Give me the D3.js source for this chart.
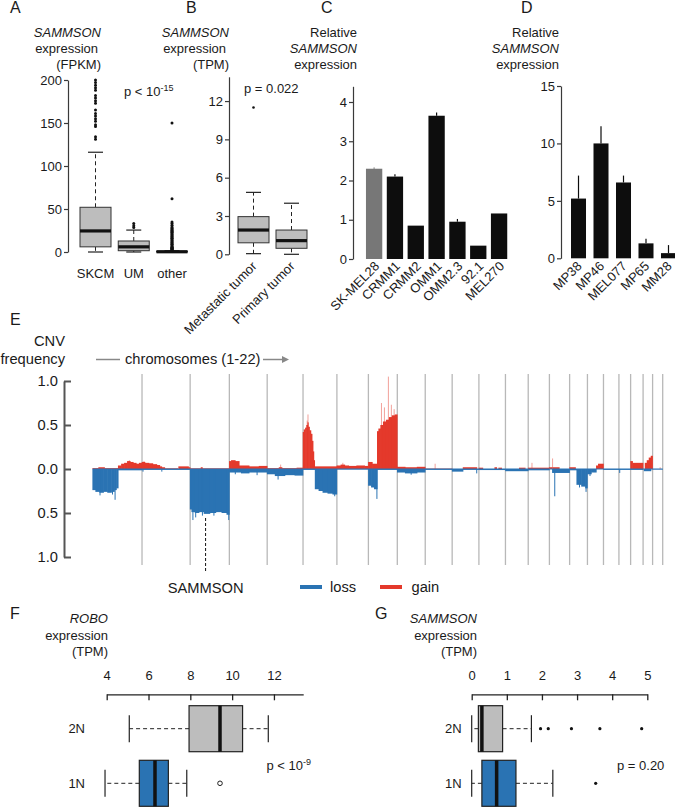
<!DOCTYPE html>
<html><head><meta charset="utf-8">
<script src="https://cdn.jsdelivr.net/npm/d3@7"></script>
<style>body{margin:0;background:#fff}svg{display:block}</style>
</head><body><svg id="c" width="675" height="807"></svg>
<script>
const FONT = '"Liberation Sans", Arial, Helvetica, sans-serif';
// ---------- DATA ----------
// Panel A: [lowWhisker, q1, median, q3, highWhisker]
const aGroups = ["SKCM", "UM", "other"];
const aStats = [[0, 6, 24.5, 52, 116], [0, 1.5, 6, 12.8, 25.5], [0, 0.1, 0.3, 0.8, 1.5]];
const aOutliers = [
  [131, 134, 146, 148, 152, 155, 158, 161, 165, 173, 176, 179, 182, 188, 191, 194, 197, 200],
  [28.5, 30.5, 33],
  [2, 2.5, 3, 3.5, 4, 4.5, 5, 5.5, 6, 7, 8, 9, 10, 11, 12, 13, 14, 15, 16, 17, 18, 19, 20, 21, 22, 23, 24, 25, 26, 27, 28, 29, 31, 33, 35, 62, 150]
];
const aTicks = [0, 50, 100, 150, 200];
// Panel B
const bGroups = ["Metastatic tumor", "Primary tumor"];
const bStats = [[0.05, 0.9, 1.9, 2.95, 4.85], [0, 0.47, 1.07, 1.9, 4.0]];
const bOutliers = [[11.5], []];
const bTicks = [0, 3, 6, 9, 12];
// Panel C
const cCats = ["SK-MEL28", "CRMM1", "CRMM2", "OMM1", "OMM2.3", "92.1", "MEL270"];
const cVals = [2.3, 2.1, 0.85, 3.65, 0.95, 0.34, 1.16];
const cErr = [0.03, 0.06, 0, 0.08, 0.07, 0, 0];
const cTicks = [0, 1, 2, 3, 4];
// Panel D
const dCats = ["MP38", "MP46", "MEL077", "MP65", "MM28"];
const dVals = [5.2, 10.0, 6.6, 1.3, 0.45];
const dErr = [2.0, 1.5, 0.6, 0.4, 0.7];
const dTicks = [0, 5, 10, 15];
// Panel E: chromosome lengths (Mb), segments [chr, startMb, endMb, freq]
const chrLengths = [249, 243, 198, 191, 181, 171, 159, 146, 141, 136, 135, 134, 115, 107, 102, 90, 81, 78, 59, 63, 48, 51];
const gainSegs = [
  [1,0,30,0.01],[1,30,60,0.02],[1,60,129,0.01],[1,129,145,0.04],[1,145,160,0.06],[1,160,175,0.07],[1,175,190,0.09],[1,190,205,0.08],[1,205,220,0.07],[1,220,235,0.06],[1,235,249,0.07],
  [2,0,15,0.08],[2,15,35,0.07],[2,35,55,0.065],[2,55,75,0.055],[2,75,90,0.045],[2,90,100,0.03],[2,100,115,0.02],[2,115,180,0.008],[2,185,235,0.03],[2,235,243,0.02],
  [3,0,198,0.008],[3,55,62,0.02],
  [4,0,10,0.09],[4,10,30,0.1],[4,30,50,0.09],[4,50,100,0.04],[4,100,150,0.03],[4,150,191,0.035],
  [5,0,181,0.01],[5,60,75,0.02],[5,150,181,0.015],
  [6,0,5,0.42],[6,5,12,0.45],[6,12,18,0.47],[6,18,24,0.5],[6,24,27,0.53],[6,27,33,0.48],[6,33,40,0.44],[6,40,46,0.4],[6,46,51,0.32],[6,51,55,0.2],[6,55,59,0.1],[6,59,171,0.03],
  [7,0,20,0.04],[7,20,40,0.05],[7,40,60,0.04],[7,60,100,0.035],[7,100,140,0.04],[7,140,159,0.035],
  [8,0,20,0.08],[8,20,45,0.06],[8,45,52,0.43],[8,52,62,0.46],[8,62,75,0.5],[8,75,90,0.54],[8,90,105,0.56],[8,105,120,0.59],[8,120,135,0.61],[8,135,146,0.62],
  [9,0,40,0.025],[9,40,100,0.02],[9,100,141,0.025],
  [10,0,136,0.005],
  [11,55,125,0.02],
  [12,0,20,0.015],[12,80,90,0.02],[12,100,115,0.015],
  [13,70,100,0.015],
  [14,0,107,0.015],
  [15,0,15,0.02],[15,18,50,0.02],
  [16,0,30,0.02],
  [17,45,55,0.04],[17,55,81,0.06],
  [20,0,10,0.09],[20,10,63,0.07],
  [21,10,20,0.07],[21,20,30,0.1],[21,30,40,0.13],[21,40,48,0.15]
];
const gainSpikes = [[6,25,0.62],[6,21,0.55],[7,30,0.07],[8,66,0.75],[8,81,0.7],[8,101,1.05],[8,116,0.73],[8,130,0.68],[10,50,0.06],[14,19,0.07],[15,16,0.12],[22,38,0.02],[5,68,0.05],[1,185,0.1],[2,10,0.09]];
const lossSegs = [
  [1,0,15,0.24],[1,15,35,0.26],[1,35,55,0.27],[1,55,75,0.26],[1,75,95,0.27],[1,95,110,0.26],[1,110,120,0.24],[1,120,129,0.22],[1,129,249,0.015],
  [2,0,243,0.01],
  [3,0,8,0.46],[3,8,25,0.49],[3,25,45,0.5],[3,45,70,0.49],[3,70,100,0.51],[3,100,130,0.5],[3,130,160,0.49],[3,160,185,0.5],[3,185,198,0.52],
  [4,0,60,0.04],[4,60,100,0.05],[4,100,191,0.04],
  [5,0,40,0.06],[5,40,90,0.08],[5,90,140,0.07],[5,140,181,0.075],
  [6,0,61,0.01],[6,61,80,0.23],[6,80,100,0.25],[6,100,125,0.27],[6,125,150,0.28],[6,150,171,0.29],
  [7,0,159,0.005],
  [8,0,15,0.19],[8,15,30,0.21],[8,30,45,0.23],[8,45,146,0.01],
  [9,0,40,0.04],[9,40,100,0.05],[9,100,141,0.04],
  [10,0,136,0.01],
  [11,0,55,0.03],[11,55,135,0.01],
  [12,0,134,0.012],
  [13,0,115,0.025],
  [14,0,107,0.015],
  [15,15,102,0.045],
  [16,0,36,0.015],[16,36,60,0.18],[16,60,80,0.2],[16,80,90,0.22],
  [17,0,20,0.06],[17,20,45,0.04],
  [18,0,78,0.01],
  [19,0,59,0.01],
  [20,0,63,0.01],
  [21,5,40,0.025],
  [22,0,51,0.005]
];
const lossSpikes = [[1,37,0.3],[1,100,0.29],[1,113,0.35],[2,5,0.03],[2,100,0.03],[3,14,0.58],[3,28,0.55],[3,62,0.53],[3,120,0.53],[3,195,0.58],[4,30,0.06],[4,140,0.07],[5,55,0.12],[6,160,0.31],[8,43,0.34],[9,70,0.065],[11,124,0.05],[15,27,0.31],[16,83,0.26],[16,50,0.21],[17,13,0.08],[19,4,0.045]];
const eTicks = [-1, -0.5, 0, 0.5, 1];
const sammsonPos = [3, 78];
// Panel F / G: [lowWhisker, q1, median, q3, highWhisker]
const rows = ["2N", "1N"];
const fStats = [[5.08, 7.94, 9.42, 10.5, 11.73], [3.92, 5.56, 6.31, 6.95, 7.83]];
const fOutliers = [[], [9.42]];
const fTicks = [4, 6, 8, 10, 12];
const gStats = [[0.0, 0.19, 0.29, 0.88, 1.7], [0.0, 0.29, 0.71, 1.26, 2.31]];
const gOutliers = [[1.96, 2.18, 2.84, 3.65, 4.84], [3.53]];
const gTicks = [0, 1, 2, 3, 4, 5];

// ---------- DRAW ----------
const svg = d3.select("#c").attr("font-family", FONT);
const GRAY = "#bdbdbd", BLUE = "#2a73b3", RED = "#e4392b", AX = "#3a3a3a";
const intFmt = d3.format("d");

function txt(x, y, s, o = {}) {
  const t = svg.append("text").attr("x", x).attr("y", y).attr("font-size", o.size || 13)
    .attr("text-anchor", o.anchor || "start").attr("fill", o.fill || "#1a1a1a").text(s);
  if (o.italic) t.attr("font-style", "italic");
  if (o.transform) t.attr("transform", o.transform);
  return t;
}
function title(x, lines) { lines.forEach(l => txt(l[3] !== undefined ? l[3] : x, l[0], l[1], {anchor: "end", italic: l[2]})); }
function styleAxis(g, size, color, sw) {
  g.attr("font-family", FONT).attr("font-size", size);
  g.selectAll("path.domain").attr("stroke", color).attr("stroke-width", sw);
  g.selectAll(".tick line").attr("stroke", color).attr("stroke-width", sw);
  g.selectAll(".tick text").attr("fill", "#1a1a1a");
}
function vbox(cx, w, st, y, fill, capW, outs, r) {
  const [lo, q1, md, q3, hi] = st;
  const g = svg.append("g");
  g.append("line").attr("x1", cx).attr("x2", cx).attr("y1", y(q3)).attr("y2", y(hi)).attr("stroke", "#222").attr("stroke-dasharray", "4,3");
  g.append("line").attr("x1", cx).attr("x2", cx).attr("y1", y(q1)).attr("y2", y(lo)).attr("stroke", "#222").attr("stroke-dasharray", "4,3");
  [lo, hi].forEach(v => g.append("line").attr("x1", cx - capW / 2).attr("x2", cx + capW / 2).attr("y1", y(v)).attr("y2", y(v)).attr("stroke", "#222").attr("stroke-width", 1.2));
  g.append("rect").attr("x", cx - w / 2).attr("width", w).attr("y", y(q3)).attr("height", Math.max(0.5, y(q1) - y(q3))).attr("fill", fill).attr("stroke", "#333").attr("stroke-width", 1);
  g.append("line").attr("x1", cx - w / 2).attr("x2", cx + w / 2).attr("y1", y(md)).attr("y2", y(md)).attr("stroke", "#111").attr("stroke-width", 3.2);
  outs.forEach(v => g.append("circle").attr("cx", cx).attr("cy", y(v)).attr("r", r).attr("fill", "#111"));
}
function hbox(cy, h, st, x, fill, capH, outs, open) {
  const [lo, q1, md, q3, hi] = st;
  const g = svg.append("g");
  g.append("line").attr("y1", cy).attr("y2", cy).attr("x1", x(q3)).attr("x2", x(hi)).attr("stroke", "#222").attr("stroke-dasharray", "4,3");
  g.append("line").attr("y1", cy).attr("y2", cy).attr("x1", x(q1)).attr("x2", x(lo)).attr("stroke", "#222").attr("stroke-dasharray", "4,3");
  [lo, hi].forEach(v => g.append("line").attr("y1", cy - capH / 2).attr("y2", cy + capH / 2).attr("x1", x(v)).attr("x2", x(v)).attr("stroke", "#222").attr("stroke-width", 1.2));
  g.append("rect").attr("y", cy - h / 2).attr("height", h).attr("x", x(q1)).attr("width", x(q3) - x(q1)).attr("fill", fill).attr("stroke", "#222").attr("stroke-width", 1.2);
  g.append("line").attr("y1", cy - h / 2).attr("y2", cy + h / 2).attr("x1", x(md)).attr("x2", x(md)).attr("stroke", "#111").attr("stroke-width", 3.5);
  outs.forEach(v => {
    const c = g.append("circle").attr("cy", cy).attr("cx", x(v));
    if (open) c.attr("r", 2.3).attr("fill", "none").attr("stroke", "#222").attr("stroke-width", 1);
    else c.attr("r", 1.6).attr("fill", "#111");
  });
}
function letter(x, y, s) { txt(x, y, s, {size: 16}); }

// ----- Panel A -----
letter(10, 13, "A");
title(101, [[36.5, "SAMMSON", true], [52.5, "expression", false, 98], [68.5, "(FPKM)"]]);
const yA = d3.scaleLinear().domain([0, 200]).range([252, 80]);
const xA = d3.scalePoint().domain(aGroups).range([95.5, 172]);
styleAxis(svg.append("g").attr("transform", "translate(68,0)").call(d3.axisLeft(yA).tickValues(aTicks).tickFormat(intFmt).tickSize(4).tickPadding(2).tickSizeOuter(0)), 13, AX, 1.2);
aGroups.forEach((gname, i) => {
  vbox(xA(gname), 31, aStats[i], yA, GRAY, 15, aOutliers[i], 1.5);
  txt(xA(gname), 278, gname, {anchor: "middle"});
});
const pA = txt(124, 96, "p < 10");
pA.append("tspan").attr("dy", -5).attr("font-size", 9).text("-15");

// ----- Panel B -----
letter(186, 13, "B");
title(229, [[36.5, "SAMMSON", true], [52.5, "expression", false, 226], [68.5, "(TPM)"]]);
const yB = d3.scaleLinear().domain([0, 13.9]).range([254.3, 76.8]);
const xB = d3.scalePoint().domain(bGroups).range([253.5, 291.5]);
styleAxis(svg.append("g").attr("transform", "translate(229,0)").call(d3.axisLeft(yB).tickValues(bTicks).tickFormat(intFmt).tickSize(4).tickPadding(2).tickSizeOuter(0)), 13, AX, 1.2);
bGroups.forEach((gname, i) => {
  vbox(xB(gname), 31, bStats[i], yB, GRAY, 15, bOutliers[i], 1.3);
  txt(0, 0, gname, {anchor: "end", transform: `translate(${xB(gname) + 4},${267}) rotate(-45)`});
});
txt(244, 93, "p = 0.022");

// ----- Panel C -----
letter(321, 13, "C");
title(357, [[36.5, "Relative"], [52.5, "SAMMSON", true], [68.5, "expression"]]);
const yC = d3.scaleLinear().domain([0, 4.4]).range([259, 86.3]);
const xC = d3.scaleBand().domain(cCats).range([363.7, 509.5]).paddingInner(0.217).paddingOuter(0.1085);
styleAxis(svg.append("g").attr("transform", "translate(353,0)").call(d3.axisLeft(yC).tickValues(cTicks).tickFormat(intFmt).tickSize(4).tickPadding(2).tickSizeOuter(0)), 13, AX, 1.2);
cCats.forEach((c, i) => {
  const col = i === 0 ? "#777" : "#0d0d0d";
  const cx = xC(c) + xC.bandwidth() / 2;
  if (cErr[i] > 0) svg.append("line").attr("x1", cx).attr("x2", cx).attr("y1", yC(cVals[i])).attr("y2", yC(cVals[i] + cErr[i])).attr("stroke", col).attr("stroke-width", 1.2);
  svg.append("rect").attr("x", xC(c)).attr("width", xC.bandwidth()).attr("y", yC(cVals[i])).attr("height", yC(0) - yC(cVals[i])).attr("fill", col);
  txt(0, 0, c, {anchor: "end", transform: `translate(${cx + 6},${267}) rotate(-45)`});
});

// ----- Panel D -----
letter(521, 13, "D");
title(559, [[36.5, "Relative"], [52.5, "SAMMSON", true], [68.5, "expression"]]);
const yD = d3.scaleLinear().domain([0, 15]).range([258.3, 86]);
const xD = d3.scaleBand().domain(dCats).range([567.25, 679.75]).paddingInner(0.333).paddingOuter(0.1667);
styleAxis(svg.append("g").attr("transform", "translate(561,0)").call(d3.axisLeft(yD).tickValues(dTicks).tickFormat(intFmt).tickSize(4).tickPadding(2).tickSizeOuter(0)), 13, AX, 1.2);
dCats.forEach((c, i) => {
  const cx = xD(c) + xD.bandwidth() / 2;
  svg.append("line").attr("x1", cx).attr("x2", cx).attr("y1", yD(dVals[i])).attr("y2", yD(dVals[i] + dErr[i])).attr("stroke", "#0d0d0d").attr("stroke-width", 1.2);
  svg.append("rect").attr("x", xD(c)).attr("width", xD.bandwidth()).attr("y", yD(dVals[i])).attr("height", yD(0) - yD(dVals[i])).attr("fill", "#0d0d0d");
  txt(0, 0, c, {anchor: "end", transform: `translate(${cx + 4},${267}) rotate(-45)`});
});

// ----- Panel E -----
const ES = 14.7;
txt(10, 325, "E", {size: 16});
txt(65, 346, "CNV", {anchor: "end", size: ES});
txt(65, 364, "frequency", {anchor: "end", size: ES});
txt(125, 364, "chromosomes (1-22)", {size: ES});
svg.append("line").attr("x1", 96).attr("x2", 120).attr("y1", 359.5).attr("y2", 359.5).attr("stroke", "#888").attr("stroke-width", 1.5);
svg.append("line").attr("x1", 263).attr("x2", 283).attr("y1", 359.5).attr("y2", 359.5).attr("stroke", "#888").attr("stroke-width", 1.5);
svg.append("path").attr("d", "M282,356 L289,359.5 L282,363 Z").attr("fill", "#888");
const cum = [0];
chrLengths.forEach((l, i) => cum.push(cum[i] + l));
const xE = d3.scaleLinear().domain([0, cum[cum.length - 1]]).range([92.7, 662.7]);
const yE = d3.scaleLinear().domain([-1, 1]).range([557, 381]);
const gpos = (chr, mb) => xE(cum[chr - 1] + mb);
styleAxis(svg.append("g").attr("transform", "translate(64,0)").call(d3.axisLeft(yE).tickValues(eTicks).tickFormat(d => Math.abs(d).toFixed(1)).tickSize(-7).tickPadding(6).tickSizeOuter(0)), ES, "#555", 2);
for (let i = 1; i <= chrLengths.length; i++) {
  svg.append("line").attr("x1", xE(cum[i])).attr("x2", xE(cum[i])).attr("y1", 374).attr("y2", 565).attr("stroke", "#b8b8b8").attr("stroke-width", 1.3);
}
const gE = svg.append("g");
gE.selectAll(".gs").data(gainSpikes).join("line").attr("x1", d => gpos(d[0], d[1])).attr("x2", d => gpos(d[0], d[1]))
  .attr("y1", yE(0)).attr("y2", d => yE(d[2])).attr("stroke", RED).attr("stroke-width", 0.8).attr("stroke-opacity", 0.6);
gE.selectAll(".g").data(gainSegs).join("rect").attr("x", d => gpos(d[0], d[1]) - 0.3).attr("width", d => gpos(d[0], d[2]) - gpos(d[0], d[1]) + 0.6)
  .attr("y", d => yE(d[3])).attr("height", d => yE(0) - yE(d[3])).attr("fill", RED);
gE.selectAll(".l").data(lossSegs).join("rect").attr("x", d => gpos(d[0], d[1]) - 0.3).attr("width", d => gpos(d[0], d[2]) - gpos(d[0], d[1]) + 0.6)
  .attr("y", yE(0)).attr("height", d => yE(-d[3]) - yE(0)).attr("fill", BLUE);
gE.selectAll(".ls").data(lossSpikes).join("line").attr("x1", d => gpos(d[0], d[1])).attr("x2", d => gpos(d[0], d[1]))
  .attr("y1", yE(0)).attr("y2", d => yE(-d[2])).attr("stroke", BLUE).attr("stroke-width", 1);
svg.append("line").attr("x1", xE(0)).attr("x2", xE(cum[cum.length - 1])).attr("y1", yE(0)).attr("y2", yE(0)).attr("stroke", BLUE).attr("stroke-width", 1.2);
const sx = gpos(sammsonPos[0], sammsonPos[1]);
svg.append("line").attr("x1", sx).attr("x2", sx).attr("y1", 518).attr("y2", 572).attr("stroke", "#111").attr("stroke-dasharray", "3,2").attr("stroke-width", 1);
txt(sx, 593, "SAMMSON", {anchor: "middle", size: ES});
svg.append("line").attr("x1", 300).attr("x2", 322).attr("y1", 587).attr("y2", 587).attr("stroke", BLUE).attr("stroke-width", 4);
txt(330, 592, "loss", {size: ES});
svg.append("line").attr("x1", 380).attr("x2", 402).attr("y1", 587).attr("y2", 587).attr("stroke", RED).attr("stroke-width", 4);
txt(411.5, 592, "gain", {size: ES});

// ----- Panel F -----
letter(10, 619, "F");
title(108, [[623, "ROBO", true], [639.5, "expression"], [655.5, "(TPM)"]]);
const xF = d3.scaleLinear().domain([4, 13.4]).range([106.7, 303.2]);
const yRows = d3.scalePoint().domain(rows).range([728.7, 783.3]);
styleAxis(svg.append("g").attr("transform", "translate(0,694.3)").call(d3.axisTop(xF).tickValues(fTicks).tickFormat(intFmt).tickSize(-6).tickPadding(14).tickSizeOuter(0)), 13, "#222", 1.3);
rows.forEach((r, i) => {
  hbox(yRows(r), 46, fStats[i], xF, i === 0 ? GRAY : BLUE, 27, fOutliers[i], true);
  txt(85, yRows(r) + 4.5, r, {anchor: "end"});
});
const pF = txt(266.5, 770, "p < 10");
pF.append("tspan").attr("dy", -5).attr("font-size", 9).text("-9");

// ----- Panel G -----
letter(375, 619, "G");
title(477, [[623, "SAMMSON", true], [639.5, "expression"], [655.5, "(TPM)"]]);
const xG = d3.scaleLinear().domain([0, 5]).range([471.7, 647.3]);
styleAxis(svg.append("g").attr("transform", "translate(0,694.3)").call(d3.axisTop(xG).tickValues(gTicks).tickFormat(intFmt).tickSize(-6).tickPadding(14).tickSizeOuter(0)), 13, "#222", 1.3);
rows.forEach((r, i) => {
  hbox(yRows(r), 46, gStats[i], xG, i === 0 ? GRAY : BLUE, 27, gOutliers[i], false);
  txt(461.7, yRows(r) + 4.5, r, {anchor: "end"});
});
txt(617, 770, "p = 0.20");
</script></body></html>
